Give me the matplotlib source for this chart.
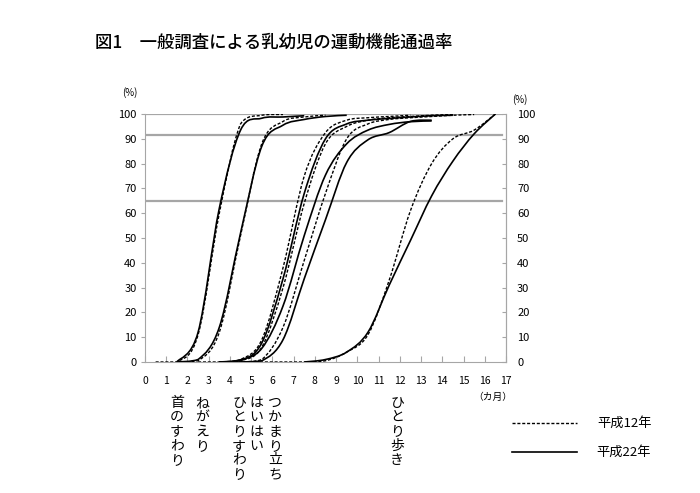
import numpy as np
import matplotlib
matplotlib.use("Agg")
import matplotlib.pyplot as plt
from matplotlib.path import Path
from matplotlib.patches import PathPatch
from matplotlib.lines import Line2D

plt.rcParams['font.family'] = ['Noto Sans CJK JP', 'DejaVu Sans']

# === DONNÉES (mois = milieu de la classe d'âge) ===
# 首のすわり
neck_x_h22 = [1.5, 2.5, 3.5, 4.5, 5.5, 6.5, 7.5]
neck_h22 = [0, 12, 62, 93.5, 98.3, 98.8, 99.3]
neck_x_h12 = [0.5, 1.5, 2.5, 3.5, 4.5, 5.5, 6.5]
neck_h12 = [0, 0, 11, 60, 96, 99.5, 99.8]

# ねがえり
roll_x_h22 = [1.5, 2.5, 3.5, 4.5, 5.5, 6.5, 7.5, 8.5, 9.5]
roll_h22 = [0, 1, 14, 52, 87, 95.5, 97.8, 99, 99.5]
roll_x_h12 = [1.5, 2.5, 3.5, 4.5, 5.5, 6.5, 7.5, 8.5]
roll_h12 = [0, 0.5, 12, 51, 88, 97, 98.8, 99.5]

# ひとりすわり
sit_x_h22 = [3.5, 4.5, 5.5, 6.5, 7.5, 8.5, 9.5, 10.5, 11.5, 12.5, 13.5, 14.5]
sit_h22 = [0, 0.5, 7.7, 33.6, 68, 90, 96, 97.5, 98.2, 98.8, 99.3, 99.5]
sit_x_h12 = [2.5, 3.5, 4.5, 5.5, 6.5, 7.5, 8.5, 9.5, 10.5, 11.5, 12.5]
sit_h12 = [0, 0, 1, 9, 38, 75, 92.5, 97.5, 98.5, 99, 99.5]

# はいはい
crawl_x_h22 = [3.5, 4.5, 5.5, 6.5, 7.5, 8.5, 9.5, 10.5, 11.5, 12.5, 13.5]
crawl_h22 = [0, 0.9, 5.5, 22.6, 51, 75.4, 88, 93.5, 95.8, 96.9, 97.2]
crawl_x_h12 = [3.5, 4.5, 5.5, 6.5, 7.5, 8.5, 9.5, 10.5, 11.5, 12.5, 13.5, 14.5]
crawl_h12 = [0, 0.5, 6, 30, 64, 88, 95, 97.5, 98.5, 99, 99.5, 99.8]

# つかまり立ち
stand_x_h22 = [4.5, 5.5, 6.5, 7.5, 8.5, 9.5, 10.5, 11.5, 12.5, 13.5]
stand_h22 = [0, 0.5, 9, 33.6, 57.4, 80.5, 89.6, 92.5, 97, 97.5]
stand_x_h12 = [3.5, 4.5, 5.5, 6.5, 7.5, 8.5, 9.5, 10.5, 11.5, 12.5, 13.5, 14.5, 15.5]
stand_h12 = [0, 0, 1, 14, 41, 68, 90, 96, 97.8, 98.5, 99, 99.5, 99.8]

# ひとり歩き
walk_x_h22 = [7.5, 8.5, 9.5, 10.5, 11.5, 12.5, 13.5, 14.5, 15.5, 16.5]
walk_h22 = [0, 1, 4, 12, 31, 49, 67, 81, 92, 100]
walk_x_h12 = [4.5, 5.5, 6.5, 7.5, 8.5, 9.5, 10.5, 11.5, 12.5, 13.5, 14.5, 15.5, 16.5]
walk_h12 = [0, 0, 0, 0, 0.5, 4, 11, 33, 61, 80, 90, 93.5, 100]

ref_lines = [100, 91.5, 65]
x_ticks = list(range(0, 18))
y_ticks = list(range(0, 101, 10))

items = ["首のすわり", "ねがえり", "ひとりすわり", "はいはい", "つかまり立ち", "ひとり歩き"]
item_pos = [177, 202, 239, 256, 275, 397]  # position horizontale (px) des étiquettes

series_h12 = [(neck_x_h12, neck_h12), (roll_x_h12, roll_h12), (sit_x_h12, sit_h12),
              (crawl_x_h12, crawl_h12), (stand_x_h12, stand_h12), (walk_x_h12, walk_h12)]
series_h22 = [(neck_x_h22, neck_h22), (roll_x_h22, roll_h22), (sit_x_h22, sit_h22),
              (crawl_x_h22, crawl_h22), (stand_x_h22, stand_h22), (walk_x_h22, walk_h22)]


def smooth_path(x, y):
    # courbe lissée façon Excel (Bézier passant par les points)
    pts = np.column_stack([x, y]).astype(float)
    n = len(pts)
    verts = [pts[0]]
    codes = [Path.MOVETO]
    for i in range(n - 1):
        p0 = pts[i - 1] if i > 0 else pts[i]
        p1, p2 = pts[i], pts[i + 1]
        p3 = pts[i + 2] if i + 2 < n else pts[i + 1]
        c1 = p1 + (p2 - p0) / 6
        c2 = p2 - (p3 - p1) / 6
        c1[1] = min(max(c1[1], 0), 100)
        c2[1] = min(max(c2[1], 0), 100)
        verts += [c1, c2, p2]
        codes += [Path.CURVE4] * 3
    return Path(verts, codes)


W, H = 700, 493
fig = plt.figure(figsize=(7, 4.93), dpi=100)
ax = fig.add_axes([145 / W, 1 - 362 / H, 361 / W, 248 / H])
ax.set_xlim(0, 17)
ax.set_ylim(0, 100)

grey = '#a6a6a6'
for v in ref_lines:
    ax.axhline(v, xmin=0, xmax=0.99, color=grey, lw=1.6, zorder=1)

for x, y in series_h12:
    ax.add_patch(PathPatch(smooth_path(x, y), fill=False, color='black', lw=1.0,
                           linestyle=(0, (2.2, 1.3)), zorder=3))
for x, y in series_h22:
    ax.add_patch(PathPatch(smooth_path(x, y), fill=False, color='black', lw=1.2, zorder=3))

for s in ['left', 'bottom', 'right']:
    ax.spines[s].set_color(grey)
    ax.spines[s].set_linewidth(0.8)
ax.spines['top'].set_visible(False)

ax.set_xticks(x_ticks)
ax.set_yticks(y_ticks)
ax.tick_params(axis='x', direction='in', length=4, color=grey, labelsize=7.5, pad=10)
ax.tick_params(axis='y', direction='out', length=3, color=grey, labelsize=8, pad=3)

ax2 = ax.twinx()
ax2.set_ylim(0, 100)
ax2.set_yticks(y_ticks)
ax2.tick_params(axis='y', direction='in', length=3, color=grey, labelsize=8, pad=8)
for s in ['left', 'bottom', 'top']:
    ax2.spines[s].set_visible(False)
ax2.spines['right'].set_color(grey)
ax2.spines['right'].set_linewidth(0.8)

fig.text(95 / W, 1 - 43 / H, "図1　一般調査による乳幼児の運動機能通過率", fontsize=12.5,
         ha='left', va='center', fontweight='medium')
fig.text(130 / W, 1 - 93 / H, "(%)", fontsize=7, ha='center', va='center')
fig.text(520 / W, 1 - 100 / H, "(%)", fontsize=7, ha='center', va='center')
fig.text(493 / W, 1 - 397 / H, "（カ月）", fontsize=7, ha='center', va='center')

for name, px in zip(items, item_pos):
    fig.text(px / W, 1 - 396 / H, "\n".join(name), fontsize=10, ha='center', va='top',
             linespacing=1.02)

# légende
fig.add_artist(Line2D([512 / W, 577 / W], [1 - 423 / H, 1 - 423 / H], transform=fig.transFigure,
                      color='black', lw=1.0, linestyle=(0, (2.2, 1.3))))
fig.add_artist(Line2D([512 / W, 577 / W], [1 - 452 / H, 1 - 452 / H], transform=fig.transFigure,
                      color='black', lw=1.2))
fig.text(597 / W, 1 - 423 / H, "平成12年", fontsize=9.5, ha='left', va='center')
fig.text(596 / W, 1 - 452 / H, "平成22年", fontsize=9.5, ha='left', va='center')

fig.savefig('out.png', dpi=100)
